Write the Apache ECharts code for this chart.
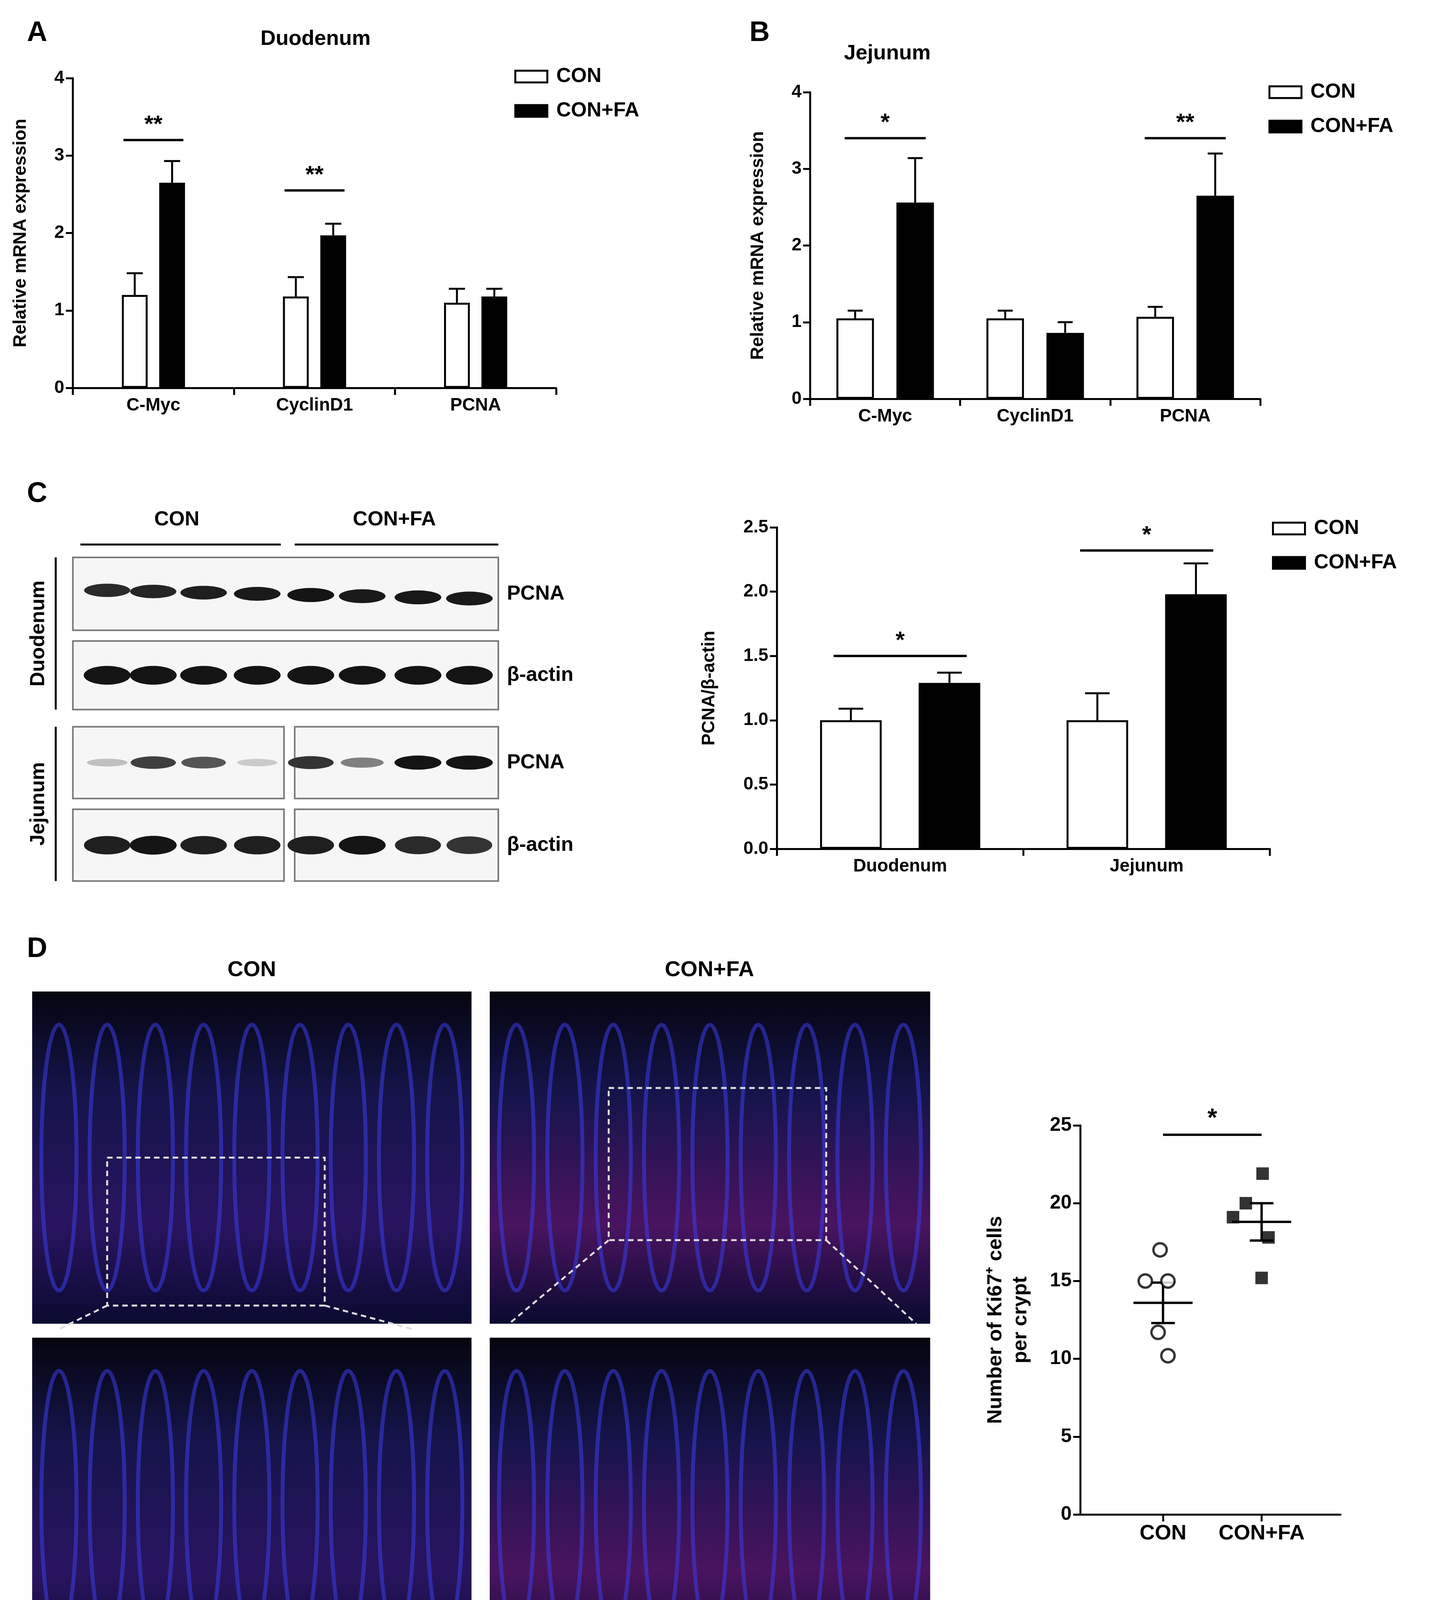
<!DOCTYPE html>
<html><head><meta charset="utf-8">
<script src="https://cdn.jsdelivr.net/npm/echarts@6/dist/echarts.min.js"></script>
<style>html,body{margin:0;background:#fff}#c{width:3677px;height:4307px}</style>
</head><body><div id="c"></div>
<script>
// panel A - duodenum mRNA
const catsAB = ['C-Myc', 'CyclinD1', 'PCNA'];
const aCon = [1.2, 1.18, 1.1], aConErr = [0.28, 0.25, 0.18];
const aFa = [2.65, 1.97, 1.18], aFaErr = [0.28, 0.15, 0.1];
const aSig = [['**', 3.2], ['**', 2.55], null];
// panel B - jejunum mRNA
const bCon = [1.05, 1.05, 1.07], bConErr = [0.1, 0.1, 0.13];
const bFa = [2.56, 0.86, 2.65], bFaErr = [0.58, 0.14, 0.55];
const bSig = [['*', 3.4], null, ['**', 3.4]];
// panel C - PCNA/β-actin
const catsC = ['Duodenum', 'Jejunum'];
const cCon = [1.0, 1.0], cConErr = [0.09, 0.21];
const cFa = [1.29, 1.98], cFaErr = [0.08, 0.24];
const cSig = [['*', 1.5], ['*', 2.32]];
// panel D - Ki67+ cells per crypt
const dConX = [0.97, 0.82, 1.05, 0.95, 1.05], dConY = [17, 15, 15, 11.7, 10.2];
const dFaX = [2.01, 1.84, 1.71, 2.07, 2.0], dFaY = [21.9, 20, 19.1, 17.8, 15.2];
const dMean = [13.6, 18.8], dSem = [1.3, 1.2];
const dTicks = [1, 2], dTickLabels = ['CON', 'CON+FA'];
// blot band intensities per row (8 lanes)
const blotRows = [[0.9,0.92,0.95,0.97,1,0.97,0.98,0.97],[1,1,1,1,1,1,1,1],[0.2,0.8,0.7,0.15,0.85,0.5,1,1],[0.95,1,0.95,0.95,0.95,1,0.9,0.85]];

const F = 'Liberation Sans, Arial, sans-serif';
const S = 2.744;
const chart = echarts.init(document.getElementById('c'));
const grids = [], xAxes = [], yAxes = [], series = [], graphic = [];

function axisStyle() {
  return { axisLine: { show: true, lineStyle: { color: '#000', width: 5 } },
    axisTick: { show: true, length: 18, lineStyle: { color: '#000', width: 5 } },
    axisLabel: { color: '#000', fontSize: 46, fontWeight: 'bold', fontFamily: F, margin: 22 },
    splitLine: { show: false } };
}

function barPanel(g, box, cats, con, conE, fa, faE, sig, ymax, itv, yname, bw, gap, off, fmt) {
  grids.push(box);
  xAxes.push(Object.assign(axisStyle(), { type: 'category', gridIndex: g, data: cats }));
  const ya = Object.assign(axisStyle(), { type: 'value', gridIndex: g, min: 0, max: ymax, interval: itv,
    name: yname, nameLocation: 'middle', nameGap: 110,
    nameTextStyle: { color: '#000', fontSize: 46, fontWeight: 'bold', fontFamily: F } });
  if (fmt) ya.axisLabel.formatter = v => v.toFixed(1);
  yAxes.push(ya);
  series.push({ name: 'CON', type: 'bar', xAxisIndex: g, yAxisIndex: g, data: con, barWidth: bw, barGap: gap,
    itemStyle: { color: '#fff', borderColor: '#000', borderWidth: 5 } });
  series.push({ name: 'CON+FA', type: 'bar', xAxisIndex: g, yAxisIndex: g, data: fa, barWidth: bw, barGap: gap,
    itemStyle: { color: '#000', borderColor: '#000', borderWidth: 5 } });
  const errData = cats.map((c, i) => [i, con[i], conE[i], fa[i], faE[i]]);
  series.push({ type: 'custom', xAxisIndex: g, yAxisIndex: g, silent: true, data: errData, z: 1,
    renderItem(params, api) {
      const i = api.value(0), w = api.size([1, 0])[0], cap = w * 0.05;
      const ch = [];
      [[-off, api.value(1), api.value(2)], [off, api.value(3), api.value(4)]].forEach(([o, v, e]) => {
        const p0 = api.coord([i, v]), p1 = api.coord([i, v + e]);
        const x = p0[0] + o * w;
        ch.push({ type: 'line', shape: { x1: x, y1: p0[1], x2: x, y2: p1[1] }, style: { stroke: '#000', lineWidth: 5 } });
        ch.push({ type: 'line', shape: { x1: x - cap, y1: p1[1], x2: x + cap, y2: p1[1] }, style: { stroke: '#000', lineWidth: 5 } });
      });
      return { type: 'group', children: ch };
    } });
  const sigData = [];
  sig.forEach((s, i) => { if (s) sigData.push([i, s[1], s[0]]); });
  series.push({ type: 'custom', xAxisIndex: g, yAxisIndex: g, silent: true, data: sigData,
    renderItem(params, api) {
      const i = api.value(0), w = api.size([1, 0])[0];
      const p = api.coord([i, api.value(1)]), h = (off + 0.07) * w;
      return { type: 'group', children: [
        { type: 'line', shape: { x1: p[0] - h, y1: p[1], x2: p[0] + h, y2: p[1] }, style: { stroke: '#000', lineWidth: 6 } },
        { type: 'text', x: p[0], y: p[1] - 8, style: { text: sigData[params.dataIndex][2], fill: '#000',
          font: 'bold 60px ' + F, align: 'center', verticalAlign: 'bottom' } } ] };
    } });
}

barPanel(0, { left: 68 * S, top: 200, width: 451 * S, height: 793 }, catsAB, aCon, aConErr, aFa, aFaErr, aSig, 4, 1,
  'Relative mRNA expression', '16%', '45%', 0.116);
barPanel(1, { left: 756 * S, top: 236, width: 420 * S, height: 785 }, catsAB, bCon, bConErr, bFa, bFaErr, bSig, 4, 1,
  'Relative mRNA expression', '25%', '60%', 0.2);
barPanel(2, { left: 725 * S, top: 1350, width: 460 * S, height: 823 }, catsC, cCon, cConErr, cFa, cFaErr, cSig, 2.5, 0.5,
  'PCNA/β-actin', '25%', '60%', 0.2, true);
yAxes[2].nameGap = 150;

// panel D scatter
grids.push({ left: 1008 * S, top: 2881, width: 2.64 * 92 * S, height: 996 });
const dx = axisStyle();
dx.axisTick.customValues = dTicks;
dx.axisLabel.customValues = dTicks;
dx.axisLabel.formatter = v => dTickLabels[dTicks.indexOf(v)] || '';
dx.axisLabel.fontSize = 54;
xAxes.push(Object.assign(dx, { type: 'value', gridIndex: 3, min: 0.16, max: 2.8 }));
const dy = axisStyle();
dy.axisLabel.fontSize = 50;
yAxes.push(Object.assign(dy, { type: 'value', gridIndex: 3, min: 0, max: 25, interval: 5,
  name: 'Number of Ki67⁺ cells\nper crypt', nameLocation: 'middle', nameGap: 120,
  nameTextStyle: { color: '#000', fontSize: 52, fontWeight: 'bold', fontFamily: F, lineHeight: 64 } }));
series.push({ type: 'scatter', xAxisIndex: 3, yAxisIndex: 3, symbol: 'circle', symbolSize: 34,
  data: dConX.map((x, i) => [x, dConY[i]]), itemStyle: { color: '#fff', borderColor: '#000', borderWidth: 6 } });
series.push({ type: 'scatter', xAxisIndex: 3, yAxisIndex: 3, symbol: 'rect', symbolSize: 32,
  data: dFaX.map((x, i) => [x, dFaY[i]]), itemStyle: { color: '#000' } });
series.push({ type: 'custom', xAxisIndex: 3, yAxisIndex: 3, silent: true, data: [[1, dMean[0], dSem[0]], [2, dMean[1], dSem[1]]],
  renderItem(params, api) {
    const x = api.value(0), m = api.value(1), e = api.value(2);
    const a = api.coord([x - 0.3, m]), b = api.coord([x + 0.3, m]);
    const t = api.coord([x, m + e]), d = api.coord([x, m - e]);
    const c = api.coord([x - 0.12, 0])[0], c2 = api.coord([x + 0.12, 0])[0];
    const st = { stroke: '#000', lineWidth: 6 };
    return { type: 'group', children: [
      { type: 'line', shape: { x1: a[0], y1: a[1], x2: b[0], y2: b[1] }, style: st },
      { type: 'line', shape: { x1: t[0], y1: t[1], x2: d[0], y2: d[1] }, style: st },
      { type: 'line', shape: { x1: c, y1: t[1], x2: c2, y2: t[1] }, style: st },
      { type: 'line', shape: { x1: c, y1: d[1], x2: c2, y2: d[1] }, style: st } ] };
  } });
series.push({ type: 'custom', xAxisIndex: 3, yAxisIndex: 3, silent: true, data: [[1.5, 24.4]],
  renderItem(params, api) {
    const a = api.coord([1, 24.4]), b = api.coord([2, 24.4]);
    return { type: 'group', children: [
      { type: 'line', shape: { x1: a[0], y1: a[1], x2: b[0], y2: b[1] }, style: { stroke: '#000', lineWidth: 6 } },
      { type: 'text', x: (a[0] + b[0]) / 2, y: a[1] - 8, style: { text: '*', fill: '#000', font: 'bold 64px ' + F, align: 'center', verticalAlign: 'bottom' } } ] };
  } });

function legendAt(l, t) {
  return { left: l, top: t, orient: 'vertical', icon: 'rect', itemWidth: 82, itemHeight: 30, itemGap: 36, data: ['CON', 'CON+FA'],
    itemStyle: { borderWidth: 5 },
    textStyle: { color: '#000', fontSize: 52, fontWeight: 'bold', fontFamily: F, padding: [0, 0, 0, 18] } };
}

// text labels
function txt(x, y, s, size, align) {
  graphic.push({ type: 'text', x: x, y: y, style: { text: s, fill: '#000', font: 'bold ' + size + 'px ' + F, align: align || 'center', verticalAlign: 'middle' } });
}
txt(95, 85, 'A', 72); txt(1945, 85, 'B', 72); txt(95, 1265, 'C', 72); txt(95, 2430, 'D', 72);
txt(808, 100, 'Duodenum', 54); txt(828 * S, 50 * S, 'Jejunum', 54);

// western blots
const lanes = [100, 143, 190, 240, 290, 338, 390, 438];
const rowsY = [[520, 588], [598, 662], [678, 745], [755, 822]];
const rowLbl = ['PCNA', 'β-actin', 'PCNA', 'β-actin'];
txt(165 * S, 485 * S, 'CON', 52); txt(368 * S, 485 * S, 'CON+FA', 52);
graphic.push({ type: 'line', shape: { x1: 75 * S, y1: 508 * S, x2: 262 * S, y2: 508 * S }, style: { stroke: '#000', lineWidth: 5 } });
graphic.push({ type: 'line', shape: { x1: 275 * S, y1: 508 * S, x2: 465 * S, y2: 508 * S }, style: { stroke: '#000', lineWidth: 5 } });
graphic.push({ type: 'line', shape: { x1: 52 * S, y1: 520 * S, x2: 52 * S, y2: 662 * S }, style: { stroke: '#000', lineWidth: 5 } });
graphic.push({ type: 'line', shape: { x1: 52 * S, y1: 678 * S, x2: 52 * S, y2: 822 * S }, style: { stroke: '#000', lineWidth: 5 } });
graphic.push({ type: 'text', x: 36 * S, y: 591 * S, rotation: Math.PI / 2, style: { text: 'Duodenum', fill: '#000', font: 'bold 52px ' + F, align: 'center', verticalAlign: 'middle' } });
graphic.push({ type: 'text', x: 36 * S, y: 750 * S, rotation: Math.PI / 2, style: { text: 'Jejunum', fill: '#000', font: 'bold 52px ' + F, align: 'center', verticalAlign: 'middle' } });
rowsY.forEach((r, ri) => {
  const boxes = ri >= 2 ? [[68, 265], [275, 465]] : [[68, 465]];
  boxes.forEach(bx => graphic.push({ type: 'rect', shape: { x: bx[0] * S, y: r[0] * S, width: (bx[1] - bx[0]) * S, height: (r[1] - r[0]) * S },
    style: { fill: '#f6f6f6', stroke: '#777', lineWidth: 4 } }));
  const cy = (r[0] + r[1]) / 2 * S;
  lanes.forEach((lx, li) => {
    const v = blotRows[ri][li];
    const g = Math.round(235 - 215 * v);
    graphic.push({ type: 'ellipse', shape: { cx: lx * S, cy: cy - (ri === 0 ? (3 - li) * 3 : 0), rx: 50 + 10 * v, ry: (ri % 2 ? 14 : 8) + 10 * v },
      style: { fill: 'rgb(' + g + ',' + g + ',' + g + ')' } });
  });
  txt(473 * S, cy, rowLbl[ri], 52, 'left');
});

// fluorescence images (decorative)
const imgs = [[30, 925, 440, 1235], [457, 925, 868, 1235], [30, 1248, 440, 1558], [457, 1248, 868, 1558]];
imgs.forEach((im, k) => {
  graphic.push({ type: 'rect', shape: { x: im[0] * S, y: im[1] * S, width: (im[2] - im[0]) * S, height: (im[3] - im[1]) * S },
    style: { fill: new echarts.graphic.LinearGradient(0, 0, 0, 1, [
      { offset: 0, color: '#05050f' }, { offset: 0.3, color: '#14144a' }, { offset: 0.7, color: k % 2 ? '#4a1460' : '#2a1460' }, { offset: 1, color: '#0a0a30' }]) } });
  for (let j = 0; j < 9; j++) {
    const cx = (im[0] + 25 + j * (im[2] - im[0] - 50) / 8) * S;
    graphic.push({ type: 'ellipse', shape: { cx: cx, cy: (im[1] + (im[3] - im[1]) * 0.5) * S, rx: 45, ry: (im[3] - im[1]) * 0.4 * S },
      style: { fill: 'rgba(0,0,0,0)', stroke: 'rgba(60,60,230,0.55)', lineWidth: 10 } });
  }
});
txt(235 * S, 905 * S, 'CON', 56); txt(662 * S, 905 * S, 'CON+FA', 56);
const dash = { stroke: '#ddd', lineWidth: 5, lineDash: [14, 10], fill: 'none' };
graphic.push({ type: 'rect', shape: { x: 100 * S, y: 1080 * S, width: 203 * S, height: 138 * S }, style: dash });
graphic.push({ type: 'rect', shape: { x: 568 * S, y: 1015 * S, width: 203 * S, height: 142 * S }, style: dash });
graphic.push({ type: 'line', shape: { x1: 100 * S, y1: 1218 * S, x2: 55 * S, y2: 1240 * S }, style: dash });
graphic.push({ type: 'line', shape: { x1: 303 * S, y1: 1218 * S, x2: 385 * S, y2: 1240 * S }, style: dash });
graphic.push({ type: 'line', shape: { x1: 568 * S, y1: 1157 * S, x2: 475 * S, y2: 1235 * S }, style: dash });
graphic.push({ type: 'line', shape: { x1: 771 * S, y1: 1157 * S, x2: 855 * S, y2: 1235 * S }, style: dash });

chart.setOption({
  animation: false,
  grid: grids, xAxis: xAxes, yAxis: yAxes, series: series,
  legend: [legendAt(1312, 165), legendAt(3243, 205), legendAt(3252, 1322)],
  graphic: graphic
});
</script></body></html>
